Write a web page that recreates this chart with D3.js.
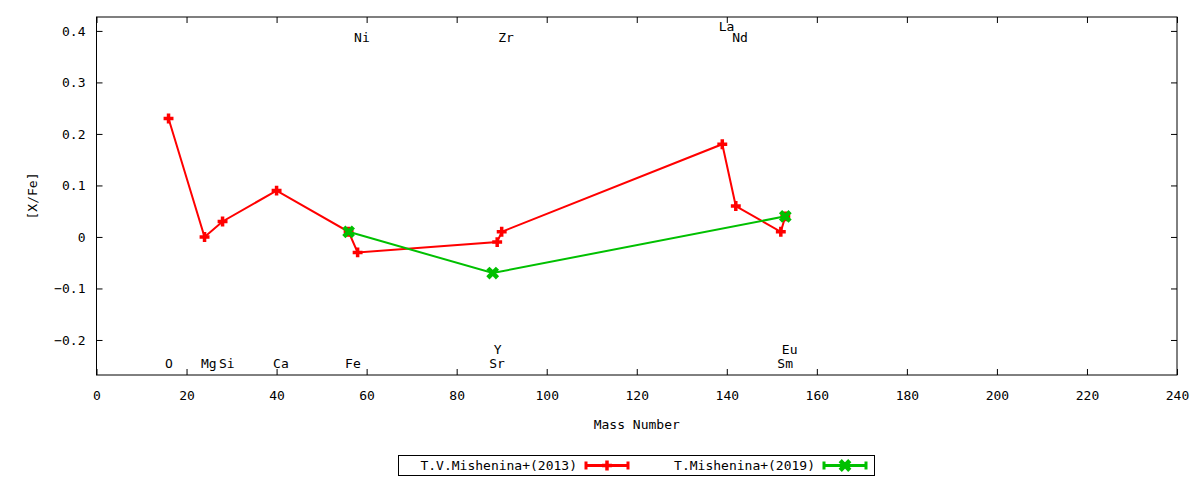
<!DOCTYPE html>
<html lang="en">
<head>
  <meta charset="UTF-8">
  <title>[X/Fe] vs Mass Number</title>
  <script src="https://d3js.org/d3.v7.min.js"></script>
  <style>
    body { margin: 0; padding: 0; background: #fff; }
    svg text { font-family: 'DejaVu Sans Mono', monospace; font-size: 13px; fill: #000; }
  </style>
</head>
<body>
  <svg id="chart" width="1200" height="480"></svg>
  <script>
    // data
    var series2013Mass = [16, 24, 28, 40, 56, 58, 89, 90, 139, 142, 152, 153];
    var series2013Val  = [0.23, 0.0, 0.03, 0.09, 0.01, -0.03, -0.01, 0.01, 0.18, 0.06, 0.01, 0.04];
    var series2019Mass = [56, 88, 153];
    var series2019Val  = [0.01, -0.07, 0.04];

    var labelNames = ['O', 'Mg', 'Si', 'Ca', 'Fe', 'Ni', 'Sr', 'Y', 'Zr', 'La', 'Nd', 'Sm', 'Eu'];
    var labelMass  = [16, 24, 28, 40, 56, 58, 88, 89, 90, 139, 142, 152, 153];
    var labelLevel = [-0.245, -0.245, -0.245, -0.245, -0.245, 0.388, -0.245, -0.218, 0.388, 0.408, 0.388, -0.245, -0.218];

    var xTicks = d3.range(0, 241, 20);
    var yTicks = [-0.2, -0.1, 0, 0.1, 0.2, 0.3, 0.4];
    var seriesNames = ['T.V.Mishenina+(2013)', 'T.Mishenina+(2019)'];
    var seriesColors = ['#ff0000', '#00c000'];

    var padL = 96.5, padR = 1177, padT = 17, padB = 375;
    var svg = d3.select('#chart');

    var x = d3.scaleLinear().domain([0, 240]).range([padL, padR]);
    var y = d3.scaleLinear().domain([-0.268, 0.427]).range([padB, padT]);

    function fmtY(d) {
      return d === 0 ? '0' : d3.format('.1f')(d);
    }

    // axes with mirrored ticks
    svg.append('g')
      .attr('transform', 'translate(0,' + padB + ')')
      .call(d3.axisBottom(x).tickValues(xTicks).tickSize(-6).tickPadding(16).tickFormat(d3.format('d')))
      .call(function(g) { g.select('.domain').remove(); });
    svg.append('g')
      .attr('transform', 'translate(0,' + padT + ')')
      .call(d3.axisTop(x).tickValues(xTicks).tickSize(-6).tickFormat(''))
      .call(function(g) { g.select('.domain').remove(); });
    svg.append('g')
      .attr('transform', 'translate(' + padL + ',0)')
      .call(d3.axisLeft(y).tickValues(yTicks).tickSize(-6).tickPadding(11).tickFormat(fmtY))
      .call(function(g) { g.select('.domain').remove(); });
    svg.append('g')
      .attr('transform', 'translate(' + padR + ',0)')
      .call(d3.axisRight(y).tickValues(yTicks).tickSize(-6).tickFormat(''))
      .call(function(g) { g.select('.domain').remove(); });

    svg.selectAll('.tick line').attr('stroke', '#000');
    svg.selectAll('.tick text').style('font-family', "'DejaVu Sans Mono', monospace").style('font-size', '13px');

    svg.append('rect')
      .attr('x', padL).attr('y', padT)
      .attr('width', padR - padL).attr('height', padB - padT)
      .attr('fill', 'none').attr('stroke', '#000').attr('stroke-width', 1);

    // axis titles
    svg.append('text')
      .attr('x', (padL + padR) / 2).attr('y', 429)
      .attr('text-anchor', 'middle')
      .text('Mass Number');
    svg.append('text')
      .attr('transform', 'translate(37,' + ((padT + padB) / 2) + ')rotate(-90)')
      .attr('text-anchor', 'middle')
      .text('[X/Fe]');

    // element labels
    svg.selectAll('text.elem')
      .data(labelNames).enter().append('text')
      .classed('elem', true)
      .attr('x', function(d, i) { return x(labelMass[i]) - 3.5; })
      .attr('y', function(d, i) { return y(labelLevel[i]); })
      .attr('dy', '0.35em')
      .text(function(d) { return d; });

    function plus(s) {
      return 'M' + (-s) + ',0H' + s + 'M0,' + (-s) + 'V' + s;
    }
    function cross(s) {
      return 'M' + (-s) + ',' + (-s) + 'L' + s + ',' + s + 'M' + (-s) + ',' + s + 'L' + s + ',' + (-s);
    }

    var line = d3.line()
      .x(function(d) { return x(d[0]); })
      .y(function(d) { return y(d[1]); });

    var all = [
      d3.zip(series2013Mass, series2013Val),
      d3.zip(series2019Mass, series2019Val)
    ];
    var markers = [function() { return plus(3.2); }, function() { return cross(3.2); }];
    var markerWidth = [3.5, 4.5];

    all.forEach(function(pts, k) {
      svg.append('path')
        .datum(pts)
        .attr('d', line)
        .attr('fill', 'none')
        .attr('stroke', seriesColors[k])
        .attr('stroke-width', 2);
      svg.selectAll('path.m' + k)
        .data(pts).enter().append('path')
        .classed('m' + k, true)
        .attr('d', markers[k])
        .attr('transform', function(d) { return 'translate(' + x(d[0]) + ',' + y(d[1]) + ')'; })
        .attr('fill', 'none')
        .attr('stroke', seriesColors[k])
        .attr('stroke-linecap', 'square')
        .attr('stroke-width', markerWidth[k]);
    });

    // legend
    var lg = svg.append('g');
    lg.append('rect')
      .attr('x', 398.5).attr('y', 455.5).attr('width', 476).attr('height', 20)
      .attr('fill', '#fff').attr('stroke', '#000');
    var legendTextEnd = [577, 815];
    seriesNames.forEach(function(name, k) {
      var tx = legendTextEnd[k], cy = 465.5;
      var x0 = tx + 9, x1 = tx + 51;
      lg.append('text')
        .attr('x', tx).attr('y', cy).attr('dy', '0.35em')
        .attr('text-anchor', 'end')
        .text(name);
      lg.append('path')
        .attr('d', 'M' + x0 + ',' + cy + 'H' + x1 + 'M' + x0 + ',' + (cy - 4) + 'V' + (cy + 4) + 'M' + x1 + ',' + (cy - 4) + 'V' + (cy + 4))
        .attr('stroke', seriesColors[k]).attr('stroke-width', 3).attr('fill', 'none');
      lg.append('path')
        .attr('d', markers[k]())
        .attr('transform', 'translate(' + ((x0 + x1) / 2) + ',' + cy + ')')
        .attr('stroke', seriesColors[k]).attr('stroke-width', markerWidth[k])
        .attr('stroke-linecap', 'square').attr('fill', 'none');
    });
  </script>
</body>
</html>
